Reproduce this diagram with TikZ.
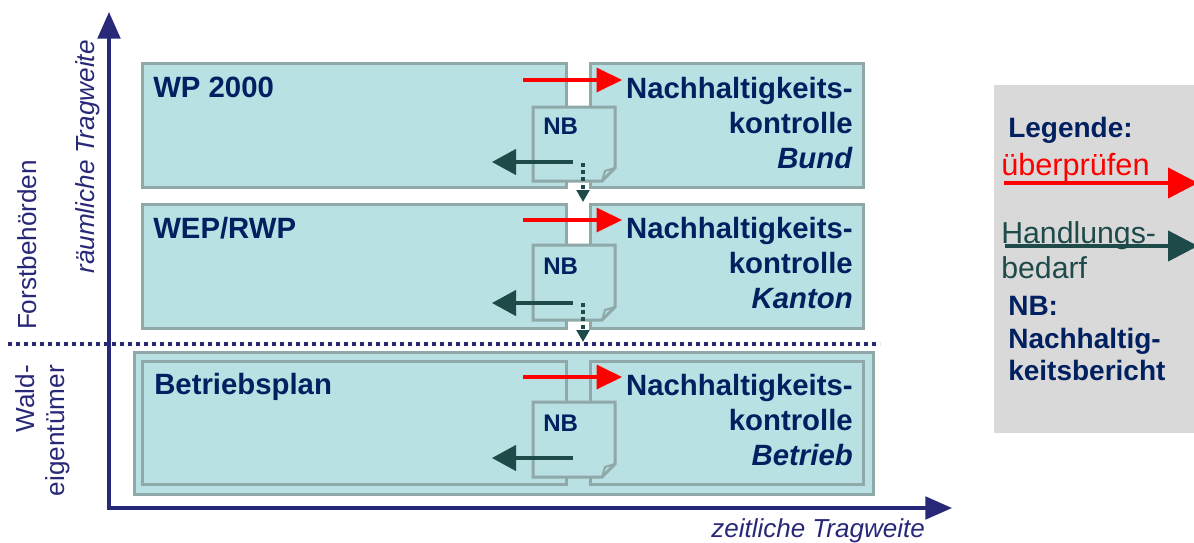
\documentclass[tikz,border=0pt]{standalone}
\usepackage{fontspec}
\setmainfont{Liberation Sans}
\usetikzlibrary{arrows.meta}
\definecolor{boxfill}{RGB}{185,224,227}
\definecolor{boxline}{RGB}{143,168,168}
\definecolor{navytext}{RGB}{0,32,96}
\definecolor{axiscol}{RGB}{40,40,120}
\definecolor{darkteal}{RGB}{31,74,74}
\definecolor{legendgray}{RGB}{217,217,217}
\definecolor{redarrow}{RGB}{255,0,0}
\tikzset{
  box/.style={draw=boxline, fill=boxfill, line width=2.25pt},
  nbdoc/.style={draw=boxline, fill=boxfill, line width=2.25pt, line join=miter},
  fold/.style={draw=boxline, line width=1.5pt},
  lbl/.style={inner sep=0pt, text=navytext, font=\bfseries\fontsize{22pt}{26.25pt}\selectfont},
  rlbl/.style={inner sep=0pt, text=navytext, align=right, font=\bfseries\fontsize{22pt}{26.25pt}\selectfont},
  nbl/.style={inner sep=0pt, text=navytext, font=\bfseries\fontsize{18pt}{20pt}\selectfont},
  redarr/.style={draw=redarrow, line width=2.5pt, -{Triangle[length=19pt,width=18pt]}},
  darr/.style={draw=darkteal, line width=2.5pt, -{Triangle[length=18pt,width=19pt]}},
  dotarr/.style={draw=darkteal, line width=2.3pt, dash pattern=on 3pt off 2.4pt, -{Triangle[length=9pt,width=9.5pt]}},
  axislbl/.style={inner sep=0pt, text=axiscol, font=\fontsize{19.6pt}{22.5pt}\selectfont},
}
\begin{document}
\begin{tikzpicture}[x=0.75pt,y=-0.75pt]
\useasboundingbox (0,0) rectangle (1194,542);
\clip (0,0) rectangle (1194,542);

% legend
\fill[legendgray] (994,85) rectangle (1194,433);
\node[inner sep=0pt, anchor=north west, text=navytext, font=\bfseries\fontsize{21pt}{24.4pt}\selectfont] (leg) at (1008,117) {Legende:};
\node[inner sep=0pt, anchor=base west, text=redarrow, font=\fontsize{23pt}{26pt}\selectfont] (ueb) at (1001,175) {überprüfen};
\coordinate (legr1) at (1004,183);
\coordinate (legr2) at (1198,183);
\draw[draw=redarrow, line width=3.2pt, -{Triangle[length=22.5pt,width=22.5pt]}] (legr1) -- (legr2);
\node[inner sep=0pt, anchor=north west, text=darkteal, align=left, font=\fontsize{22.7pt}{26.25pt}\selectfont] (hand) at (1001,221) {Handlungs-\\bedarf};
\coordinate (legd1) at (1005,246);
\coordinate (legd2) at (1198,246);
\draw[draw=darkteal, line width=3.2pt, -{Triangle[length=22.5pt,width=22.5pt]}] (legd1) -- (legd2);
\node[inner sep=0pt, anchor=north west, text=navytext, align=left, font=\bfseries\fontsize{21pt}{24.4pt}\selectfont] (nbleg) at (1008,296) {NB:\\Nachhaltig-\\keitsbericht};

% row 3 outer frame
\draw[box] (134,352) rectangle (873,494);

% row 1
\draw[box] (142,64) rectangle (566,187);
\draw[box] (590,64) rectangle (863,187);
\node[lbl, anchor=north west] (wp) at (153,77) {WP 2000};
\node[rlbl, anchor=north east] (nk1) at (853,77) {Nachhaltigkeits-\\kontrolle\\\textit{Bund}};
\draw[nbdoc] (533,107) -- (615,107) -- (615,168) -- (602,181) -- (533,181) -- cycle;
\draw[fold] (602,181) -- (605,171) -- (615,168);
\node[nbl, anchor=north west] (nb1) at (543,118) {NB};
\coordinate (r1a) at (523,80); \coordinate (r1b) at (622,80);
\draw[redarr] (r1a) -- (r1b);
\coordinate (d1a) at (573,162); \coordinate (d1b) at (492,162);
\draw[darr] (d1a) -- (d1b);
\coordinate (v1a) at (583,163); \coordinate (v1b) at (583,202);
\draw[dotarr] (v1a) -- (v1b);

% row 2
\draw[box] (142,204) rectangle (566,328);
\draw[box] (590,204) rectangle (863,328);
\node[lbl, anchor=north west] (wep) at (153,217) {WEP/RWP};
\node[rlbl, anchor=north east] (nk2) at (853,217) {Nachhaltigkeits-\\kontrolle\\\textit{Kanton}};
\draw[nbdoc] (533,245) -- (615,245) -- (615,307) -- (602,320) -- (533,320) -- cycle;
\draw[fold] (602,320) -- (605,310) -- (615,307);
\node[nbl, anchor=north west] (nb2) at (543,258) {NB};
\coordinate (r2a) at (523,220); \coordinate (r2b) at (622,220);
\draw[redarr] (r2a) -- (r2b);
\coordinate (d2a) at (573,303); \coordinate (d2b) at (492,303);
\draw[darr] (d2a) -- (d2b);
\coordinate (v2a) at (583,303); \coordinate (v2b) at (583,342);
\draw[dotarr] (v2a) -- (v2b);

% row 3
\draw[box] (142,361) rectangle (566,484);
\draw[box] (590,361) rectangle (863,484);
\node[lbl, anchor=north west] (bp) at (154,373) {Betriebsplan};
\node[rlbl, anchor=north east] (nk3) at (853,374) {Nachhaltigkeits-\\kontrolle\\\textit{Betrieb}};
\draw[nbdoc] (533,402) -- (615,402) -- (615,464) -- (602,477) -- (533,477) -- cycle;
\draw[fold] (602,477) -- (605,467) -- (615,464);
\node[nbl, anchor=north west] (nb3) at (543,415) {NB};
\coordinate (r3a) at (523,377); \coordinate (r3b) at (622,377);
\draw[redarr] (r3a) -- (r3b);
\coordinate (d3a) at (573,458); \coordinate (d3b) at (492,458);
\draw[darr] (d3a) -- (d3b);

% separator
\coordinate (sepa) at (8,344); \coordinate (sepb) at (880,344);
\draw[draw=axiscol, line width=2.7pt, dash pattern=on 2.7pt off 3.3pt] (sepa) -- (sepb);

% axes
\coordinate (ytip) at (109,12);
\coordinate (origin) at (109,508);
\coordinate (xtip) at (952,508);
\draw[draw=axiscol, line width=2.4pt, line join=miter, {Triangle[length=20pt,width=17pt]}-{Triangle[length=20pt,width=17pt]}] (ytip) -- (origin) -- (xtip);

% axis labels
\node[axislbl, rotate=90, font=\itshape\fontsize{19.6pt}{22.5pt}\selectfont] (ylab) at (88,157) {räumliche Tragweite};
\node[axislbl, anchor=base east, font=\itshape\fontsize{19.5pt}{22.5pt}\selectfont] (xlab) at (925,537) {zeitliche Tragweite};
\node[axislbl, rotate=90] (forst) at (27,245) {Forstbehörden};
\node[axislbl, rotate=90, align=right, anchor=north east] (wald) at (15,365) {Wald-\\eigentümer};
\end{tikzpicture}
\end{document}
